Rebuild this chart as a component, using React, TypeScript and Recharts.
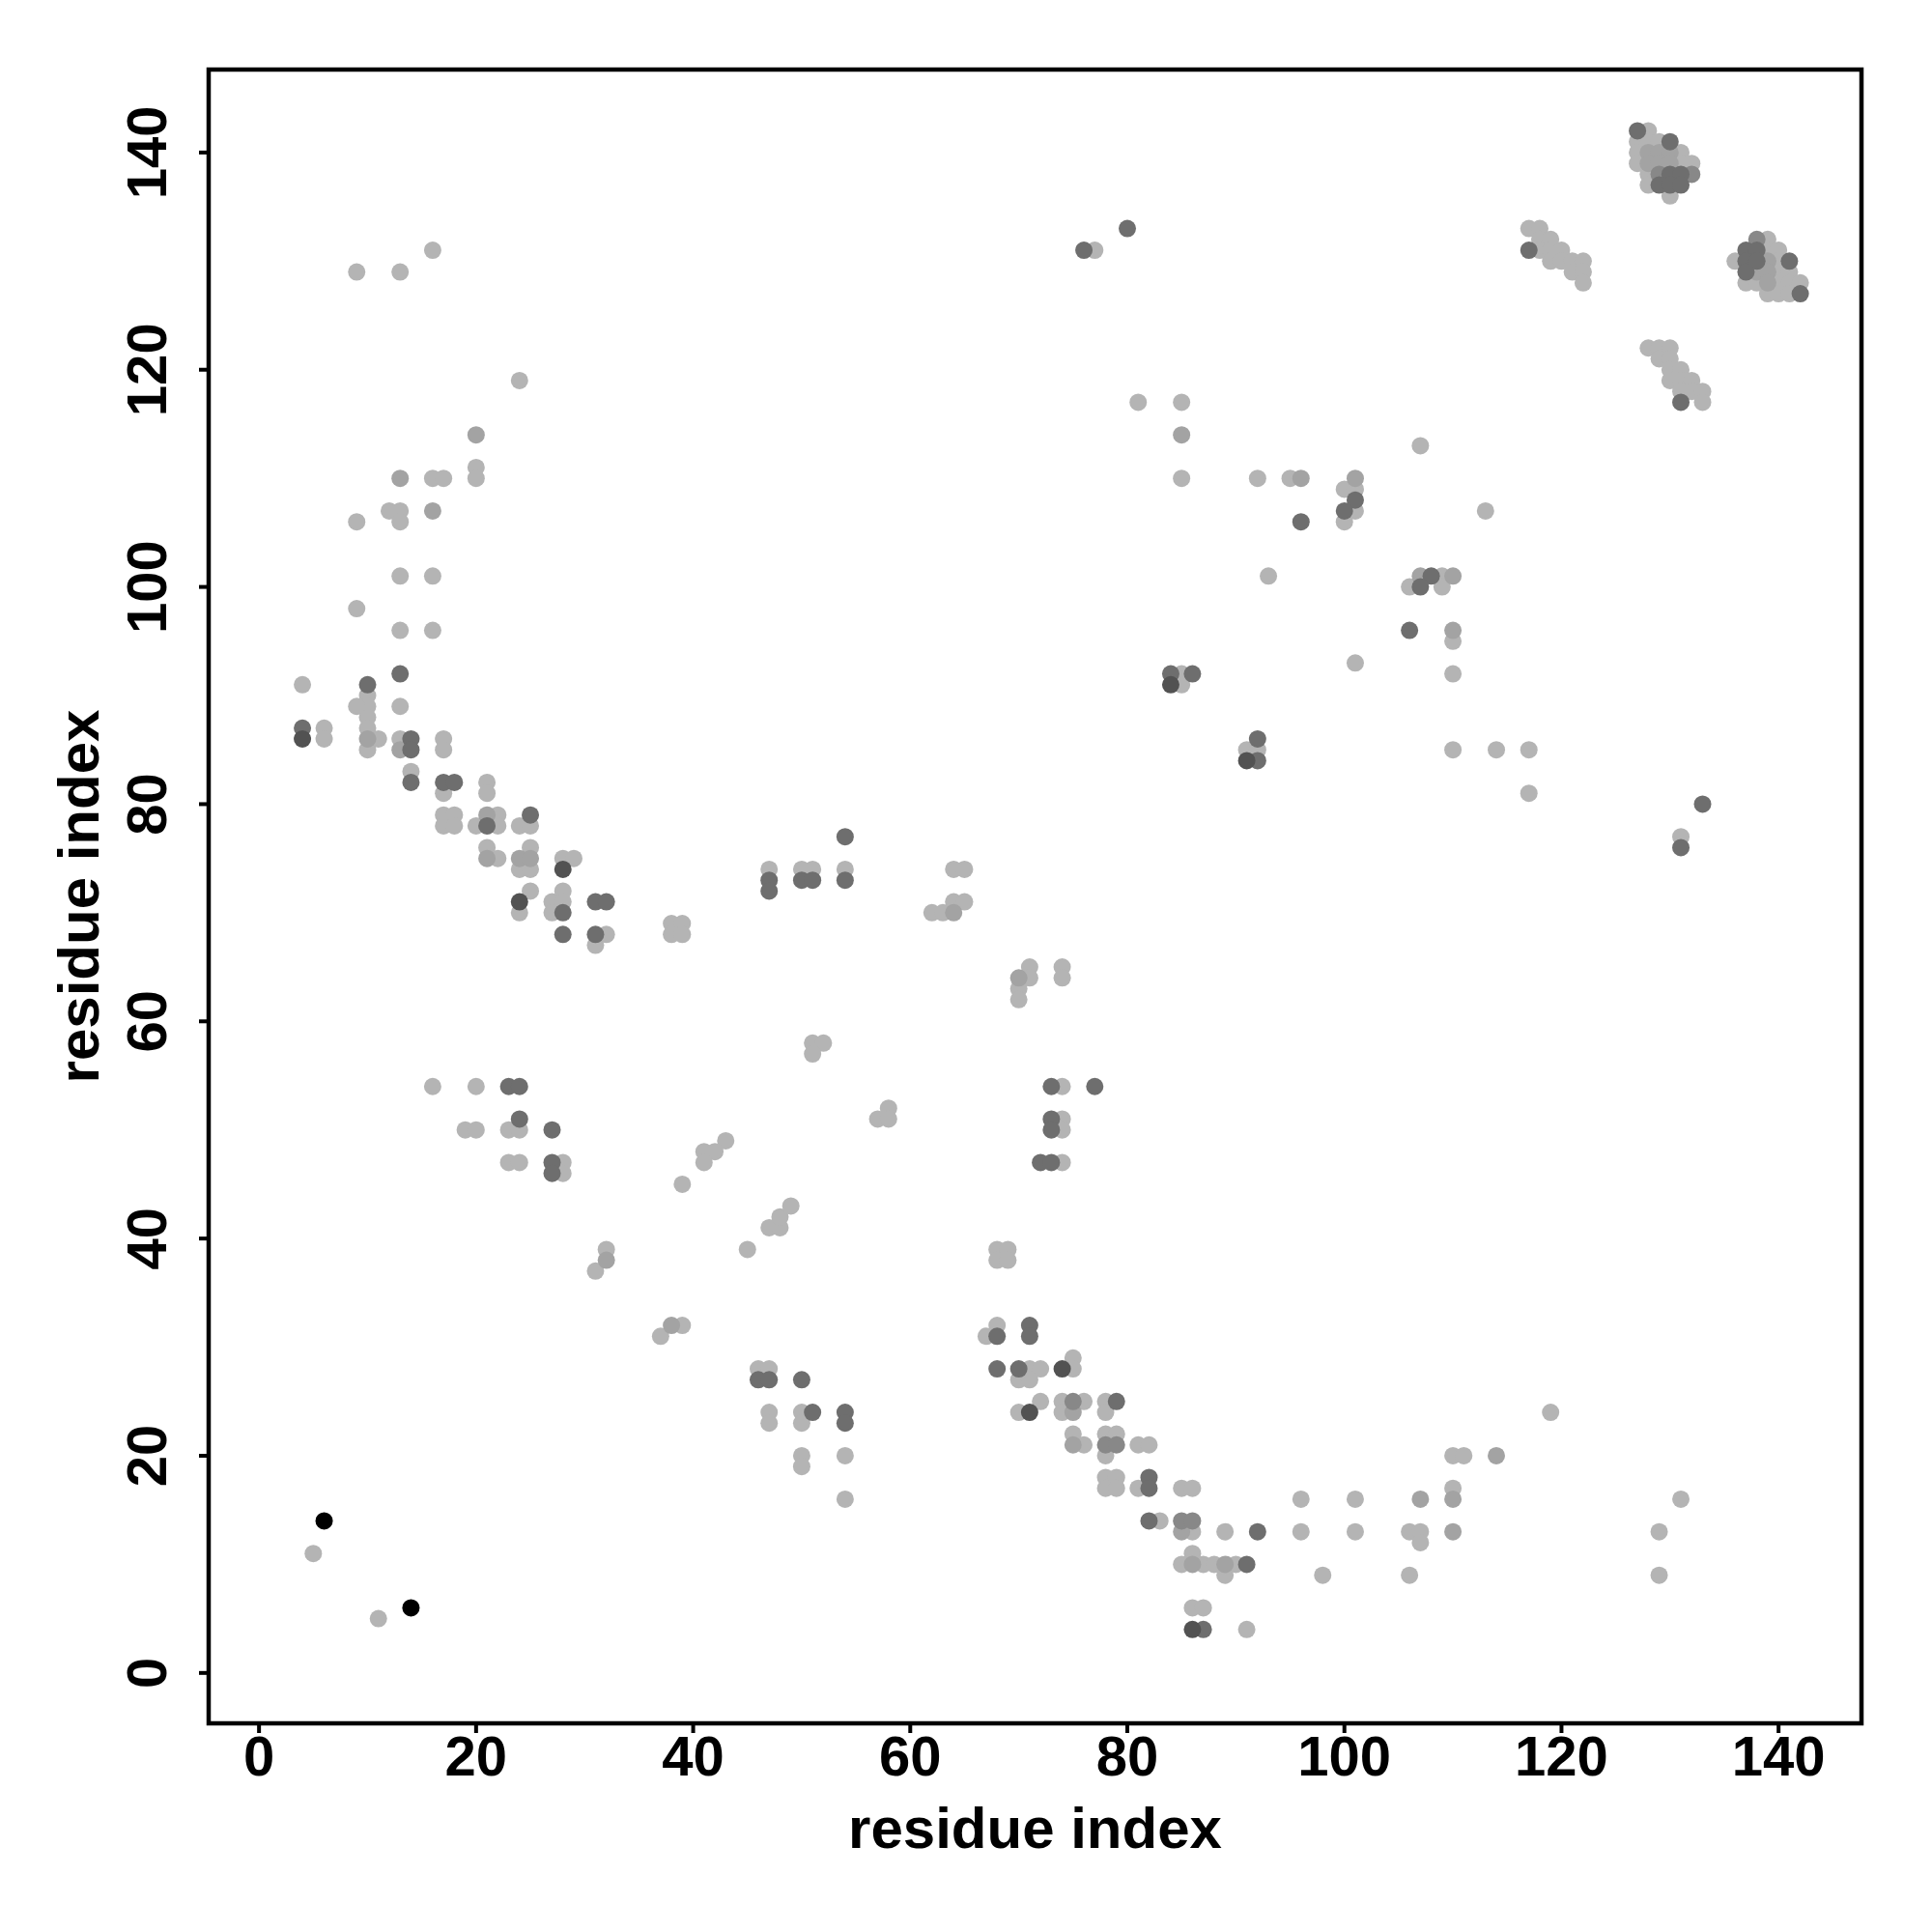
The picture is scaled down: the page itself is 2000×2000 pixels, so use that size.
import { ScatterChart, Scatter, XAxis, YAxis, ReferenceArea, Label } from 'recharts'

// contact map points, grouped by gray level [x, y]
const lightPts: [number, number][] = [
  [16, 131], [9, 129], [13, 129], [24, 119], [20, 111], [20, 110], [16, 110], [17, 110], [12, 107], [13, 107],
  [13, 106], [9, 106], [13, 101], [16, 101], [9, 98], [13, 96], [16, 96],
  [4, 91], [10, 90], [10, 89], [10, 88], [10, 87], [10, 85], [9, 89], [11, 86], [6, 87], [6, 86], [13, 89],
  [13, 86], [14, 83], [17, 86], [17, 85], [17, 81], [21, 82], [21, 81], [17, 79], [18, 79], [17, 78], [18, 78],
  [20, 78], [22, 79], [22, 78], [24, 78], [25, 78], [21, 76], [22, 75], [25, 76], [24, 74], [25, 74], [28, 75],
  [29, 75], [25, 72], [24, 70], [27, 71], [28, 72], [28, 71], [27, 70], [32, 68], [31, 67], [38, 69], [39, 69],
  [38, 68], [39, 68], [47, 74],
  [16, 54], [20, 54], [19, 50], [20, 50], [23, 50], [24, 50], [23, 47], [24, 47], [28, 47], [28, 46], [43, 49],
  [41, 48], [42, 48], [41, 47], [39, 45],
  [5, 11], [11, 5], [32, 39], [31, 37], [45, 39], [47, 41], [48, 41], [48, 42], [49, 43], [37, 31], [39, 32],
  [46, 28], [47, 28], [47, 24], [47, 23],
  [68, 39], [69, 39], [68, 38], [69, 38], [68, 32], [67, 31], [71, 28], [72, 28], [70, 27], [71, 27], [75, 29],
  [75, 28], [70, 24], [72, 25], [74, 25], [74, 24], [76, 25], [78, 25], [78, 24], [75, 22], [76, 21], [78, 22],
  [79, 22], [78, 20], [81, 21], [82, 21], [78, 18], [79, 18], [78, 17], [79, 17], [81, 17], [85, 17], [86, 17],
  [96, 16], [83, 14], [86, 13], [89, 13], [96, 13], [86, 11], [85, 10], [87, 10], [88, 10], [90, 10], [89, 9],
  [98, 9], [86, 6], [87, 6], [91, 4], [50, 24], [50, 23], [50, 20], [50, 19], [54, 20], [54, 16],
  [85, 92], [85, 91], [91, 85], [92, 85], [50, 74], [51, 74], [54, 74], [64, 74], [65, 74], [62, 70], [63, 70],
  [64, 71], [65, 71], [71, 65], [71, 64], [70, 63], [70, 62], [74, 65], [74, 64], [51, 58], [52, 58], [51, 57],
  [58, 52], [57, 51], [58, 51], [74, 54], [74, 51], [74, 50], [74, 47],
  [77, 131], [81, 117], [85, 117], [85, 110], [92, 110], [95, 110], [93, 101],
  [107, 113], [100, 109], [101, 109], [101, 107], [100, 106], [113, 107], [106, 100], [109, 101], [109, 100],
  [110, 95], [101, 93], [110, 92], [110, 85], [114, 85], [117, 85], [117, 81], [131, 77],
  [117, 133], [118, 133], [118, 132], [119, 132], [118, 131], [119, 131], [120, 131], [119, 130], [120, 130],
  [121, 130], [122, 130], [121, 129], [122, 129], [122, 128],
  [128, 122], [129, 122], [130, 122], [129, 121], [130, 121], [130, 120], [131, 120], [130, 119], [131, 119],
  [132, 119], [131, 118], [132, 118], [133, 118], [133, 117],
  [128, 142], [127, 141], [128, 141], [129, 141], [127, 140], [131, 140], [127, 139], [131, 139], [132, 139],
  [128, 138], [128, 137], [130, 136],
  [139, 132], [139, 131], [140, 131], [136, 130], [140, 130], [140, 129], [141, 129], [137, 128], [138, 128],
  [140, 128], [141, 128], [142, 128], [139, 127], [140, 127], [141, 127],
  [119, 24], [110, 20], [111, 20], [110, 17], [101, 16], [101, 13], [106, 13], [107, 13], [107, 12], [106, 9],
  [131, 16], [129, 13], [129, 9],
]

const midPts: [number, number][] = [
  [20, 114], [13, 110], [16, 107], [10, 86], [13, 85], [21, 79], [21, 75], [24, 75], [25, 75], [32, 38], [38, 32],
  [75, 24], [75, 21], [85, 13], [86, 10], [89, 10], [64, 70], [70, 64], [85, 114], [96, 110], [101, 110],
  [107, 101], [110, 101], [110, 96], [128, 140], [129, 140], [130, 140], [128, 139], [129, 139], [130, 139],
  [139, 130], [138, 129], [139, 129], [139, 128], [114, 20], [110, 16], [107, 16], [110, 13],
]

const midDarkPts: [number, number][] = [
  [75, 25], [78, 21], [79, 21], [85, 14], [86, 14], [129, 138], [132, 138], [138, 132],
]

const darkPts: [number, number][] = [
  [13, 92], [10, 91], [4, 87], [14, 86], [14, 85], [14, 82], [17, 82], [18, 82], [21, 78], [25, 79], [28, 70],
  [31, 71], [32, 71], [28, 68], [31, 68], [47, 73], [47, 72], [23, 54], [24, 54], [24, 51], [27, 50], [27, 47],
  [27, 46], [46, 27], [47, 27], [68, 31], [71, 32], [71, 31], [68, 28], [70, 28], [79, 25], [82, 18], [82, 17],
  [82, 14], [92, 13], [91, 10], [87, 4], [50, 27], [51, 24], [54, 24], [54, 23],
  [84, 92], [86, 92], [92, 86], [92, 84], [54, 77], [50, 73], [51, 73], [54, 73], [73, 54], [77, 54], [73, 51],
  [73, 50], [72, 47], [73, 47], [80, 133], [76, 131], [96, 106], [101, 108], [100, 107], [108, 101], [107, 100],
  [106, 96], [133, 80], [131, 76], [117, 131], [131, 117],
  [127, 142], [130, 141], [130, 138], [131, 138], [129, 137], [130, 137], [131, 137],
  [137, 131], [138, 131], [137, 130], [138, 130], [141, 130], [137, 129], [142, 127],
]

const darkerPts: [number, number][] = [
  [4, 86], [24, 71], [28, 74], [74, 28], [71, 24], [86, 4], [84, 91], [91, 84],
]

const blackPts: [number, number][] = [[6, 14], [14, 6]]

const axisTicks = [0, 20, 40, 60, 80, 100, 120, 140]
const DOMAIN: [number, number] = [-4.64, 147.64]
const FONT = "'Liberation Sans', Arial, Helvetica, sans-serif"

const toRows = (pts: [number, number][]) => pts.map(([x, y]) => ({ x, y }))

const dot = (color: string) => (props: any) => (
  <circle cx={props.cx} cy={props.cy} r={9} fill={color} stroke="none" />
)

function YTick(props: any) {
  const { x, y, payload } = props
  return (
    <text
      x={x}
      y={y}
      transform={`rotate(-90 ${x} ${y})`}
      textAnchor="middle"
      fontFamily={FONT}
      fontWeight="bold"
      fontSize={58}
      fill="#000"
    >
      {payload.value}
    </text>
  )
}

export default function App() {
  const series = [
    { name: 'light', pts: lightPts, color: '#b4b4b4' },
    { name: 'mid', pts: midPts, color: '#a3a3a3' },
    { name: 'middark', pts: midDarkPts, color: '#888888' },
    { name: 'dark', pts: darkPts, color: '#6e6e6e' },
    { name: 'darker', pts: darkerPts, color: '#525252' },
    { name: 'black', pts: blackPts, color: '#000000' },
  ]
  return (
    <div style={{ position: 'absolute', left: 0, top: 0, width: 2000, height: 2000, background: '#fff' }}>
      <ScatterChart width={2000} height={2000} margin={{ top: 72, right: 73, left: 0, bottom: 0 }}>
        <XAxis
          type="number"
          dataKey="x"
          domain={DOMAIN}
          ticks={axisTicks}
          allowDataOverflow
          axisLine={false}
          tickSize={10}
          tickMargin={3}
          height={216}
          tickLine={{ stroke: '#000', strokeWidth: 4 }}
          tick={{ fontFamily: FONT, fontWeight: 'bold', fontSize: 58, fill: '#000' }}
        >
          <Label
            content={(p: any) => {
              const vb = p.viewBox || { x: 216, y: 1784, width: 1711, height: 216 }
              return (
                <text x={vb.x + vb.width / 2} y={vb.y + 129} textAnchor="middle" fontFamily={FONT} fontWeight="bold" fontSize={60} fill="#000">
                  residue index
                </text>
              )
            }}
          />
        </XAxis>
        <YAxis
          type="number"
          dataKey="y"
          domain={DOMAIN}
          ticks={axisTicks}
          allowDataOverflow
          axisLine={false}
          tickSize={10}
          tickMargin={34}
          width={216}
          tickLine={{ stroke: '#000', strokeWidth: 4 }}
          tick={<YTick />}
        >
          <Label
            content={(p: any) => {
              const vb = p.viewBox || { x: 0, y: 72, width: 216, height: 1712 }
              const cy = vb.y + vb.height / 2
              return (
                <text x={102} y={cy} transform={`rotate(-90 102 ${cy})`} textAnchor="middle" fontFamily={FONT} fontWeight="bold" fontSize={60} fill="#000">
                  residue index
                </text>
              )
            }}
          />
        </YAxis>
        {series.map((s) => (
          <Scatter key={s.name} name={s.name} data={toRows(s.pts)} shape={dot(s.color)} isAnimationActive={false} />
        ))}
        <ReferenceArea x1={DOMAIN[0]} x2={DOMAIN[1]} y1={DOMAIN[0]} y2={DOMAIN[1]} fill="none" stroke="#000" strokeWidth={4.5} fillOpacity={0} />
      </ScatterChart>
    </div>
  )
}
